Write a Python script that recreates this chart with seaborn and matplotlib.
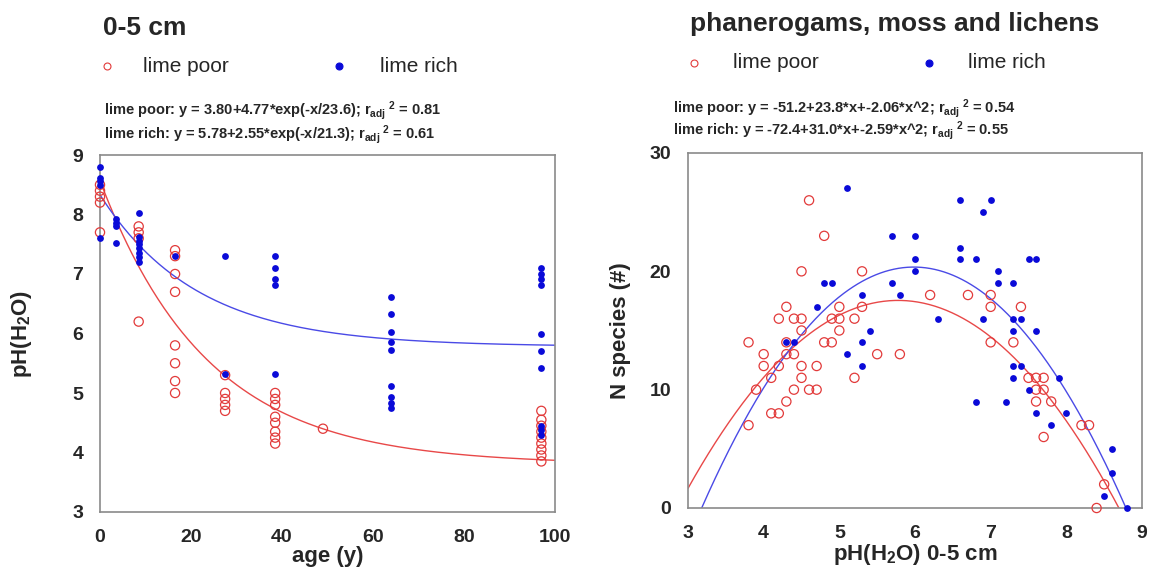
import numpy as np
import pandas as pd
import matplotlib
matplotlib.use("Agg")
import matplotlib.pyplot as plt
import seaborn as sns

# ---------------- data: left panel (pH vs age) ----------------
poor_age = [0, 0, 0, 0, 0,
            8.5, 8.5, 8.5, 8.5,
            16.5, 16.5, 16.5, 16.5, 16.5, 16.5, 16.5, 16.5,
            27.5, 27.5, 27.5, 27.5, 27.5,
            38.5, 38.5, 38.5, 38.5, 38.5, 38.5, 38.5, 38.5,
            49,
            97, 97, 97, 97, 97, 97, 97, 97, 97]
poor_ph = [8.5, 8.4, 8.3, 8.2, 7.7,
           7.8, 7.7, 7.6, 6.2,
           7.4, 7.3, 7.0, 6.7, 5.8, 5.5, 5.2, 5.0,
           5.3, 5.0, 4.9, 4.8, 4.7,
           5.0, 4.9, 4.8, 4.6, 4.5, 4.35, 4.25, 4.15,
           4.4,
           4.7, 4.55, 4.45, 4.35, 4.25, 4.15, 4.05, 3.95, 3.85]
rich_age = [0, 0, 0, 0, 0,
            3.5, 3.5, 3.5, 3.5,
            8.5, 8.5, 8.5, 8.5, 8.5, 8.5, 8.5, 8.5,
            16.5,
            27.5, 27.5,
            38.5, 38.5, 38.5, 38.5, 38.5,
            64, 64, 64, 64, 64, 64, 64, 64, 64,
            97, 97, 97, 97, 97, 97, 97, 97, 97, 97]
rich_ph = [8.8, 8.62, 8.56, 8.5, 7.6,
           7.92, 7.86, 7.8, 7.52,
           8.02, 7.62, 7.56, 7.5, 7.43, 7.35, 7.28, 7.2,
           7.3,
           7.3, 5.32,
           7.3, 7.1, 6.92, 6.82, 5.32,
           6.62, 6.32, 6.02, 5.85, 5.73, 5.12, 4.94, 4.84, 4.74,
           7.1, 7.0, 6.92, 6.82, 6.0, 5.7, 5.42, 4.44, 4.37, 4.3]

# fitted parameters printed on the chart: y = a + b*exp(-x/c)
poor_fit = (3.80, 4.77, 23.6)
rich_fit = (5.78, 2.55, 21.3)

# ---------------- data: right panel (N species vs pH) ----------------
poor_x = [3.8, 3.8, 3.9, 4.0, 4.0, 4.1, 4.1, 4.2, 4.2, 4.2, 4.3, 4.3, 4.3, 4.3,
          4.4, 4.4, 4.4, 4.5, 4.5, 4.5, 4.5, 4.5, 4.6, 4.6, 4.7, 4.7, 4.8, 4.8,
          4.9, 4.9, 5.0, 5.0, 5.0, 5.2, 5.2, 5.3, 5.3, 5.5, 5.8,
          6.2, 6.7, 7.0, 7.0, 7.0, 7.3, 7.4, 7.5, 7.6, 7.7, 7.6, 7.7, 7.6, 7.8,
          7.7, 8.2, 8.3, 8.5, 8.4]
poor_n = [14, 7, 10, 13, 12, 11, 8, 8, 12, 16, 17, 13, 9, 14,
          16, 13, 10, 20, 16, 15, 12, 11, 26, 10, 12, 10, 23, 14,
          16, 14, 17, 16, 15, 16, 11, 20, 17, 13, 13,
          18, 18, 18, 17, 14, 14, 17, 11, 11, 11, 10, 10, 9, 9,
          6, 7, 7, 2, 0]
rich_x = [5.1, 4.8, 4.9, 4.7, 4.3, 4.4, 5.3, 5.4, 5.3, 5.1, 5.3,
          6.6, 7.0, 6.9, 5.7, 6.0, 6.6, 6.6, 6.8, 7.5, 7.6, 6.0, 6.0, 7.1,
          5.7, 7.1, 7.3, 5.8, 6.3, 6.9, 7.3, 7.4, 7.3, 7.6, 7.3, 7.4, 7.3,
          7.9, 7.5, 6.8, 7.2, 7.6, 8.0, 7.8, 8.6, 8.6, 8.5, 8.8]
rich_n = [27, 19, 19, 17, 14, 14, 18, 15, 14, 13, 12,
          26, 26, 25, 23, 23, 22, 21, 21, 21, 21, 21, 20, 20,
          19, 19, 19, 18, 16, 16, 16, 16, 15, 15, 12, 12, 11,
          11, 10, 9, 9, 8, 8, 7, 5, 3, 1, 0]

# fitted parameters printed on the chart: y = a + b*x + c*x^2
poor_quad = (-51.2, 23.8, -2.06)
rich_quad = (-72.4, 31.0, -2.59)

RED = "#e23a3a"
BLUE = "#0a0ad8"
RED_LINE = "#e84848"
BLUE_LINE = "#4a4ae6"
SPINE = "#8a8a8a"

sns.set_theme(style="white")
plt.rcParams["font.family"] = ["Liberation Sans", "DejaVu Sans"]
plt.rcParams["mathtext.fontset"] = "custom"
plt.rcParams["mathtext.rm"] = "Liberation Sans:bold"
plt.rcParams["mathtext.it"] = "Liberation Sans:bold"
plt.rcParams["mathtext.bf"] = "Liberation Sans:bold"
plt.rcParams["mathtext.default"] = "rm"

fig = plt.figure(figsize=(11.52, 5.69), dpi=100)
W, H = 1152, 569


def px_axes(x0, x1, y0, y1):
    return fig.add_axes([x0 / W, 1 - y1 / H, (x1 - x0) / W, (y1 - y0) / H])


axL = px_axes(100, 555, 155, 512)
axR = px_axes(688, 1142, 153, 508)

# ---- left panel ----
dfp = pd.DataFrame({"age": poor_age, "pH": poor_ph})
dfr = pd.DataFrame({"age": rich_age, "pH": rich_ph})
sns.scatterplot(data=dfp, x="age", y="pH", ax=axL, marker="o", s=44,
                facecolors="none", edgecolor=RED, linewidth=0.9, zorder=3, clip_on=False)
sns.scatterplot(data=dfr, x="age", y="pH", ax=axL, marker="o", s=24,
                color=BLUE, edgecolor=BLUE, linewidth=0, zorder=4, clip_on=False)
xa = np.linspace(0, 100, 300)
a, b, c = poor_fit
sns.lineplot(x=xa, y=a + b * np.exp(-xa / c), ax=axL, color=RED_LINE, lw=1.0, zorder=2)
a, b, c = rich_fit
sns.lineplot(x=xa, y=a + b * np.exp(-xa / c), ax=axL, color=BLUE_LINE, lw=1.0, zorder=2)
axL.set_xlim(0, 100)
axL.set_ylim(3, 9)
axL.set_xticks([0, 20, 40, 60, 80, 100])
axL.set_yticks([3, 4, 5, 6, 7, 8, 9])
axL.set_xlabel("age (y)", fontsize=16, fontweight="bold", labelpad=0)
axL.set_ylabel(r"pH(H$_2$O)", fontsize=16, fontweight="bold")
axL.yaxis.set_label_coords(-0.145, 0.5)

# ---- right panel ----
dqp = pd.DataFrame({"pH": poor_x, "N": poor_n})
dqr = pd.DataFrame({"pH": rich_x, "N": rich_n})
sns.scatterplot(data=dqp, x="pH", y="N", ax=axR, marker="o", s=44,
                facecolors="none", edgecolor=RED, linewidth=0.9, zorder=3, clip_on=False)
sns.scatterplot(data=dqr, x="pH", y="N", ax=axR, marker="o", s=24,
                color=BLUE, edgecolor=BLUE, linewidth=0, zorder=4, clip_on=False)
xq = np.linspace(3, 9, 400)
a, b, c = poor_quad
sns.lineplot(x=xq, y=a + b * xq + c * xq ** 2, ax=axR, color=RED_LINE, lw=1.0, zorder=2)
a, b, c = rich_quad
sns.lineplot(x=xq, y=a + b * xq + c * xq ** 2, ax=axR, color=BLUE_LINE, lw=1.0, zorder=2)
axR.set_xlim(3, 9)
axR.set_ylim(0, 30)
axR.set_xticks([3, 4, 5, 6, 7, 8, 9])
axR.set_yticks([0, 10, 20, 30])
axR.set_xlabel(r"pH(H$_2$O) 0-5 cm", fontsize=16, fontweight="bold", labelpad=0)
axR.set_ylabel("N species (#)", fontsize=16, fontweight="bold")
axR.yaxis.set_label_coords(-0.125, 0.5)

for ax in (axL, axR):
    for sp in ax.spines.values():
        sp.set_visible(True)
        sp.set_color(SPINE)
        sp.set_linewidth(1.2)
    ax.tick_params(direction="in", length=4, width=1, color="#555555",
                   labelsize=14, pad=12)
    for lab in ax.get_xticklabels() + ax.get_yticklabels():
        lab.set_fontweight("bold")
    if ax.get_legend():
        ax.get_legend().remove()


def ftext(x, y, s, **kw):
    fig.text(x / W, 1 - y / H, s, **kw)


def fmark(x, y, **kw):
    fig.add_artist(plt.Line2D([x / W], [1 - y / H], **kw))


# titles
ftext(103, 28, "0-5 cm", fontsize=19, fontweight="bold", va="center")
ftext(690, 24, "phanerogams, moss and lichens", fontsize=19, fontweight="bold", va="center")

# legends
for (mx, tx, y, fc, ec, lab) in [
    (107, 143, 66, "none", RED, "lime poor"),
    (339, 380, 66, BLUE, BLUE, "lime rich"),
    (694, 733, 63, "none", RED, "lime poor"),
    (929, 968, 63, BLUE, BLUE, "lime rich"),
]:
    fmark(mx, y, marker="o", markersize=5, markerfacecolor=fc,
          markeredgecolor=ec, markeredgewidth=0.8, linestyle="none")
    ftext(tx, y, lab, fontsize=15, va="center")

# equations
eq_kw = dict(fontsize=10.5, fontweight="bold", va="center")
ftext(104, 111, r"lime poor: y = 3.80+4.77*exp(-x/23.6); r$_{adj}$$^{\ 2}$ = 0.81", **eq_kw)
ftext(104, 135, r"lime rich: y = 5.78+2.55*exp(-x/21.3); r$_{adj}$$^{\ 2}$ = 0.61", **eq_kw)
ftext(673, 109, r"lime poor: y = -51.2+23.8*x+-2.06*x^2; r$_{adj}$$^{\ 2}$ = 0.54", **eq_kw)
ftext(673, 131, r"lime rich: y = -72.4+31.0*x+-2.59*x^2; r$_{adj}$$^{\ 2}$ = 0.55", **eq_kw)

fig.savefig("out.png", dpi=100)
